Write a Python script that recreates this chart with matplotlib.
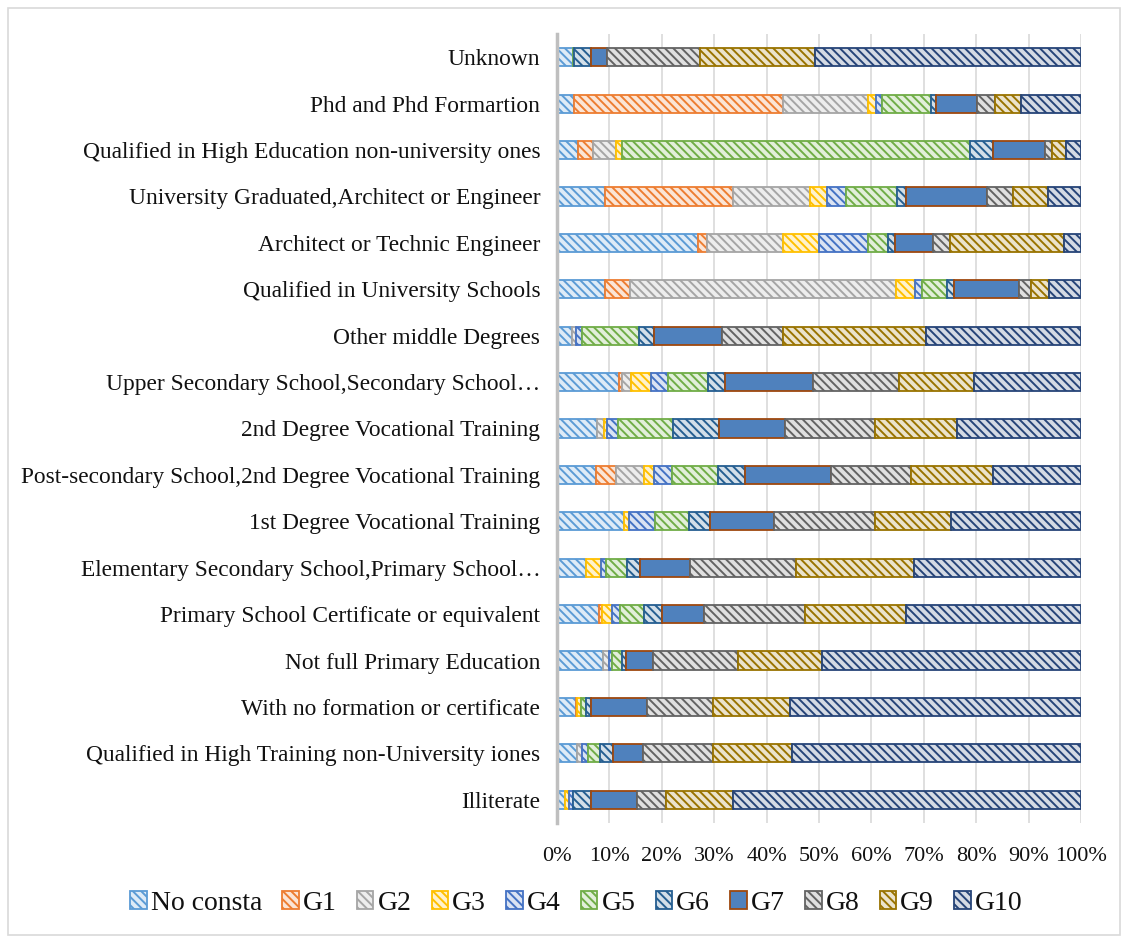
import numpy as np
import matplotlib
matplotlib.use("Agg")
import matplotlib.pyplot as plt
from matplotlib.patches import Rectangle
from matplotlib.ticker import FuncFormatter
import matplotlib.colors as mcolors

categories = [
    "Unknown",
    "Phd and Phd Formartion",
    "Qualified in High Education non-university ones",
    "University Graduated,Architect or Engineer",
    "Architect or Technic Engineer",
    "Qualified in University Schools",
    "Other middle Degrees",
    "Upper Secondary School,Secondary School\u2026",
    "2nd Degree Vocational Training",
    "Post-secondary School,2nd Degree Vocational Training",
    "1st Degree Vocational Training",
    "Elementary Secondary School,Primary School\u2026",
    "Primary School Certificate or equivalent",
    "Not full Primary Education",
    "With no formation or certificate",
    "Qualified in High Training non-University iones",
    "Illiterate",
]

series_names = ["No consta", "G1", "G2", "G3", "G4", "G5", "G6", "G7", "G8", "G9", "G10"]

no_consta = [3.0, 3.2, 4.1, 9.1, 26.8, 9.2, 2.8, 11.8, 7.6, 7.4, 12.8, 5.6, 8.1, 8.7, 3.6, 3.8, 1.6]
g1 = [0, 40.0, 2.8, 24.5, 1.8, 4.7, 0, 0.7, 0, 3.9, 0, 0, 0.5, 0, 0.3, 0, 0]
g2 = [0, 16.1, 4.3, 14.6, 14.4, 50.7, 0.9, 1.6, 1.4, 5.3, 0, 0, 0, 1.2, 0, 1.0, 0]
g3 = [0, 1.6, 1.3, 3.3, 6.9, 3.6, 0, 3.9, 0.5, 2.0, 0.9, 2.8, 1.8, 0, 0.7, 0, 0.7]
g4 = [0, 1.1, 0, 3.6, 9.3, 1.4, 1.1, 3.1, 2.2, 3.3, 5.1, 0.9, 1.6, 0.7, 0, 1.1, 0.7]
g5 = [0.3, 9.3, 66.4, 9.7, 3.9, 4.7, 10.9, 7.8, 10.5, 8.9, 6.4, 4.1, 4.5, 1.8, 1.0, 2.4, 0]
g6 = [3.1, 1.1, 4.3, 1.8, 1.3, 1.4, 2.8, 3.1, 8.7, 5.1, 4.1, 2.4, 3.5, 0.7, 0.8, 2.3, 3.5]
g7 = [3.1, 7.7, 10.0, 15.5, 7.2, 12.4, 13.0, 16.8, 12.6, 16.4, 12.2, 9.7, 8.0, 5.3, 10.7, 5.9, 8.7]
g8 = [17.8, 3.4, 1.3, 4.9, 3.2, 2.2, 11.7, 16.5, 17.1, 15.3, 19.3, 20.3, 19.3, 16.1, 12.6, 13.2, 5.6]
g9 = [21.9, 5.1, 2.7, 6.8, 21.8, 3.5, 27.3, 14.3, 15.7, 15.6, 14.4, 22.4, 19.2, 16.1, 14.7, 15.2, 12.8]
g10 = [50.8, 11.4, 2.8, 6.2, 3.2, 6.1, 29.6, 20.4, 23.7, 16.8, 24.9, 32.0, 33.4, 49.5, 55.6, 55.1, 66.4]

x_ticks = [0, 10, 20, 30, 40, 50, 60, 70, 80, 90, 100]

series_values = [no_consta, g1, g2, g3, g4, g5, g6, g7, g8, g9, g10]
edge_colors = ["#5B9BD5", "#ED7D31", "#A5A5A5", "#FFC000", "#4472C4", "#70AD47",
               "#255E91", "#9E480E", "#636363", "#997300", "#264478"]

plt.rcParams["font.family"] = ["Liberation Serif", "DejaVu Serif"]
plt.rcParams["hatch.linewidth"] = 1.4

fig = plt.figure(figsize=(11.3, 9.4), dpi=100)
ax = fig.add_axes([0.4929, 0.1245, 0.4637, 0.8393])

data = np.array(series_values, dtype=float)
data = data / data.sum(axis=0) * 100.0
lefts = np.vstack([np.zeros(data.shape[1]), np.cumsum(data, axis=0)[:-1]])
ypos = np.arange(len(categories))

def tint(c, f):
    r, g, b = mcolors.to_rgb(c)
    return (r + (1 - r) * f, g + (1 - g) * f, b + (1 - b) * f)

handles = []
for i, name in enumerate(series_names):
    mask = data[i] > 0
    if name == "G7":
        fc, hatch = "#4F81BD", None
    else:
        fc, hatch = tint(edge_colors[i], 0.8), "\\\\\\\\"
    bars = ax.barh(ypos[mask], data[i][mask], left=lefts[i][mask], height=0.39,
                   color=fc, edgecolor=edge_colors[i], linewidth=1.3, hatch=hatch,
                   label=name, zorder=3)
    handles.append(bars)

ax.set_xlim(0, 100)
ax.set_ylim(len(categories) - 0.5, -0.5)
ax.set_yticks(ypos)
ax.set_yticklabels(categories, fontsize=16.8, color="#111111")
ax.set_xticks(x_ticks)
ax.xaxis.set_major_formatter(FuncFormatter(lambda v, p: f"{int(v)}%"))
ax.tick_params(axis="x", labelsize=16, length=0, pad=17, colors="#111111")
ax.tick_params(axis="y", length=0, pad=12)
ax.grid(axis="x", color="#D9D9D9", linewidth=1.2, zorder=0)
for s in ["top", "right", "bottom"]:
    ax.spines[s].set_visible(False)
ax.spines["left"].set_color("#BFBFBF")
ax.spines["left"].set_linewidth(2.5)
ax.spines["left"].set_zorder(4)

leg = fig.legend(handles=handles, labels=series_names, loc="center", ncol=11,
                 bbox_to_anchor=(0.51, 0.039), frameon=False, fontsize=20,
                 handlelength=0.6, handleheight=0.6, handletextpad=0.15,
                 columnspacing=0.72)
for t in leg.get_texts():
    t.set_color("#111111")

fig.patches.append(Rectangle((0.007, 0.005), 0.984, 0.987, transform=fig.transFigure,
                             fill=False, edgecolor="#D9D9D9", linewidth=1.2))

fig.savefig("out.png", dpi=100)
